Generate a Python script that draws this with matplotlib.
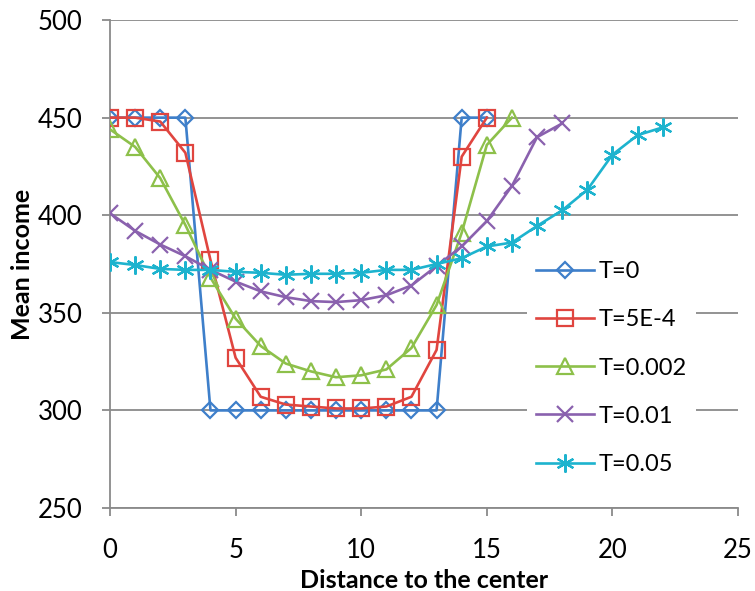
import numpy as np
import matplotlib.pyplot as plt

# data
x_t0 = list(range(0, 16))
y_t0 = [450, 450, 450, 450, 300, 300, 300, 300, 300, 300, 300, 300, 300, 300, 450, 450]

x_t1 = list(range(0, 16))
y_t1 = [450, 450, 448, 432, 377, 327, 307, 303, 302, 301, 301, 302, 307, 331, 430, 450]

x_t2 = list(range(0, 17))
y_t2 = [444, 435, 419, 395, 368, 347, 333, 324, 320, 317, 318, 321, 332, 354, 391, 436, 450]

x_t3 = list(range(0, 19))
y_t3 = [401, 392, 385, 379, 372, 366, 361, 358, 356, 355.5, 356.5, 359, 364, 374, 384, 397, 415, 440, 447]

x_t4 = list(range(0, 23))
y_t4 = [376, 374.5, 372.5, 372, 372, 371, 370.5, 369.5, 370, 370, 370.5, 372, 372, 375,
        378, 384, 386, 394.5, 402.5, 413, 431, 441, 445]

labels = ['T=0', 'T=5E-4', 'T=0.002', 'T=0.01', 'T=0.05']
colors = ['#3E7FCA', '#E0453F', '#8DC04A', '#8A61AE', '#1DB3CE']
markers = ['D', 's', '^', 'x', (6, 2, 0)]
msizes = [8, 11, 11, 11, 13]

plt.rcParams['font.family'] = ['Lato', 'DejaVu Sans']

fig = plt.figure(figsize=(7.55, 5.91), dpi=100)
ax = fig.add_axes([0.1457, 0.1404, 0.8318, 0.8257])

series = [(x_t0, y_t0), (x_t1, y_t1), (x_t2, y_t2), (x_t3, y_t3), (x_t4, y_t4)]
for (xs, ys), lab, c, m, ms in zip(series, labels, colors, markers, msizes):
    ax.plot(xs, ys, color=c, lw=1.9, marker=m, ms=ms, mfc='none', mec=c,
            mew=1.6, label=lab, zorder=3)

ax.set_xlim(0, 25)
ax.set_ylim(250, 500)
ax.set_xticks([0, 5, 10, 15, 20, 25])
ax.set_yticks([250, 300, 350, 400, 450, 500])

ax.grid(axis='y', color='#8a8a8a', lw=1.3, zorder=0)
ax.set_axisbelow(True)
for s in ['top', 'right']:
    ax.spines[s].set_visible(False)
for s in ['left', 'bottom']:
    ax.spines[s].set_color('#8a8a8a')
    ax.spines[s].set_linewidth(1.3)

ax.tick_params(axis='both', colors='#8a8a8a', length=5.8, width=1.3, direction='out',
               labelsize=18.5, labelcolor='black')
ax.tick_params(axis='y', pad=14)
ax.tick_params(axis='x', pad=16)

ax.set_xlabel('Distance to the center', fontsize=18, fontweight='bold')
ax.set_ylabel('Mean income', fontsize=18, fontweight='bold')
ax.xaxis.set_label_coords(0.5, -0.148)
ax.xaxis.label.set_va('center')
ax.yaxis.set_label_coords(-0.140, 0.5)
ax.yaxis.label.set_va('center')

leg = ax.legend(loc='upper left', bbox_to_anchor=(0.664, 0.525), borderaxespad=0,
                frameon=True, fontsize=17, handlelength=2.45, labelspacing=1.15,
                handletextpad=0.18, borderpad=0.4, fancybox=False)
leg.get_frame().set_facecolor('white')
leg.get_frame().set_edgecolor('none')
leg.get_frame().set_alpha(1)

fig.savefig('out.png', dpi=100)
